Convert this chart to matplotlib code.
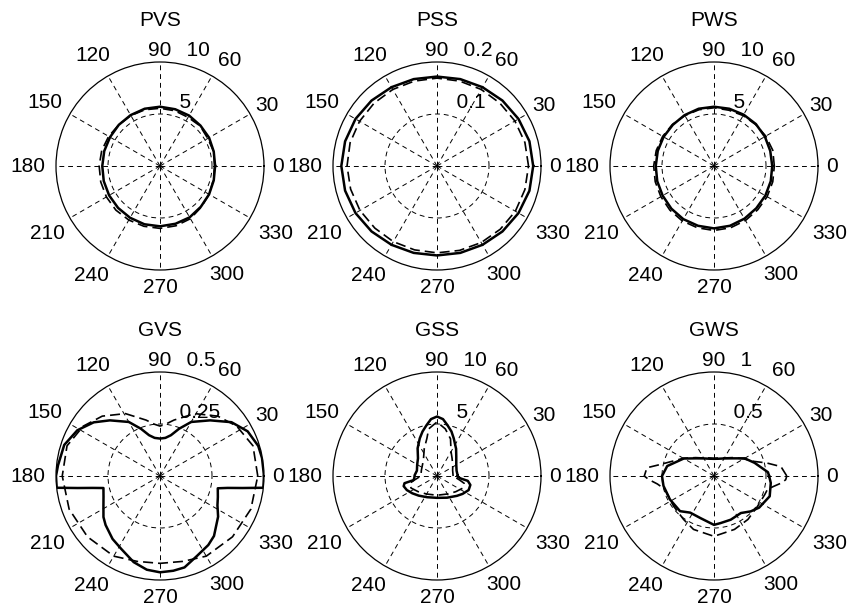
import numpy as np
import matplotlib.pyplot as plt

plt.rcParams['font.family'] = ['Liberation Sans', 'DejaVu Sans']

# ---------------- DATA ---------------- #

titles = ['PVS', 'PSS', 'PWS', 'GVS', 'GSS', 'GWS']
r_max = [10, 0.2, 10, 0.5, 10, 1]
r_tick_labels = [('5', '10'), ('0.1', '0.2'), ('5', '10'),
                 ('0.25', '0.5'), ('5', '10'), ('0.5', '1')]

ang15 = list(range(0, 360, 15))

pvs_solid = [5.3, 5.35, 5.45, 5.5, 5.6, 5.65, 5.7, 5.7, 5.65, 5.6, 5.55, 5.55,
             5.55, 5.6, 5.65, 5.7, 5.75, 5.8, 5.8, 5.75, 5.7, 5.55, 5.45, 5.35]
pvs_dash = [5.25, 5.35, 5.3, 5.45, 5.4, 5.5, 5.55, 5.6, 5.6, 5.6, 5.7, 5.8,
            5.85, 5.9, 5.95, 6.0, 6.0, 6.0, 6.0, 5.95, 5.85, 5.6, 5.45, 5.3]

pss_solid = [0.185, 0.184, 0.181, 0.178, 0.175, 0.173, 0.172, 0.173, 0.175, 0.178, 0.181, 0.183,
             0.184, 0.183, 0.181, 0.178, 0.175, 0.173, 0.172, 0.173, 0.175, 0.178, 0.181, 0.184]
pss_dash = [0.176, 0.175, 0.173, 0.171, 0.170, 0.169, 0.169, 0.169, 0.170, 0.171, 0.172, 0.173,
            0.173, 0.172, 0.171, 0.169, 0.168, 0.167, 0.167, 0.168, 0.170, 0.172, 0.174, 0.175]

pws_solid = [5.6, 5.6, 5.65, 5.7, 5.7, 5.7, 5.7, 5.7, 5.65, 5.6, 5.6, 5.6,
             5.6, 5.65, 5.7, 5.8, 5.9, 5.95, 6.0, 5.95, 5.85, 5.75, 5.7, 5.65]
pws_dash = [5.8, 5.85, 5.75, 5.65, 5.6, 5.55, 5.6, 5.6, 5.6, 5.65, 5.7, 5.75,
            5.8, 5.85, 5.9, 6.0, 6.1, 6.15, 6.2, 6.15, 6.05, 5.95, 5.9, 5.85]

gvs_solid_ang = [0, 10, 17, 27, 37, 48, 60, 68, 75, 82, 90, 98, 105, 112, 120, 132,
                 141, 151, 162, 174, 180, 186.5, 188.3, 190, 192, 200, 208, 216, 222,
                 233, 242, 253, 262, 270, 278, 285, 295, 305, 312, 325, 333, 340,
                 348, 350, 351.7, 353.5]
gvs_solid = [0.5, 0.498, 0.494, 0.473, 0.43, 0.36, 0.30, 0.245, 0.203, 0.185, 0.18,
             0.185, 0.203, 0.245, 0.30, 0.36, 0.41, 0.454, 0.484, 0.493, 0.5, 0.5,
             0.40, 0.33, 0.278, 0.289, 0.308, 0.336, 0.352, 0.379, 0.397, 0.433,
             0.455, 0.463, 0.46, 0.455, 0.423, 0.405, 0.388, 0.341, 0.31, 0.296,
             0.284, 0.33, 0.40, 0.5]
gvs_dash_ang = [0, 18, 33, 46, 61, 76, 84, 90, 96, 104, 119, 134, 147, 162, 180,
                200, 220, 240, 255, 270, 285, 300, 320, 340]
gvs_dash = [0.47, 0.47, 0.44, 0.40, 0.343, 0.277, 0.25, 0.24, 0.25, 0.277, 0.343,
            0.40, 0.44, 0.47, 0.47, 0.465, 0.455, 0.445, 0.425, 0.42, 0.425, 0.445,
            0.455, 0.465]

gss_solid_ang = [0, 15, 30, 45, 55, 66, 72, 78.5, 84, 90, 96, 101.5, 108, 114.6, 125,
                 137, 150, 165, 178, 186, 190, 192.5, 197, 205, 215, 227, 245, 270,
                 295, 315, 325, 336, 345, 351, 354, 357]
gss_solid = [2.0, 1.95, 2.14, 2.62, 3.2, 3.96, 4.5, 5.0, 5.5, 5.72, 5.5, 5.0, 4.5,
             3.98, 3.25, 2.5, 2.2, 2.0, 2.15, 2.2, 2.3, 3.2, 3.35, 3.2, 2.9, 2.58,
             2.25, 2.1, 2.3, 2.7, 3.0, 3.33, 3.32, 3.0, 2.3, 2.05]
gss_dash_ang = [0, 20, 35, 50, 60, 70, 80, 90, 100, 105, 115, 127, 140, 160, 180,
                190, 195, 205, 220, 240, 270, 300, 320, 335, 345, 350]
gss_dash = [1.55, 1.6, 1.85, 2.25, 2.7, 3.8, 4.6, 5.2, 4.6, 3.75, 2.9, 2.15, 1.8,
            1.6, 1.55, 2.2, 2.7, 2.75, 2.35, 2.0, 1.85, 2.0, 2.35, 2.75, 2.7, 2.2]

gws_solid_ang = [0, 4, 18, 30, 45, 60, 75, 90, 105, 120, 135, 150, 168, 180, 191,
                 208, 226, 237, 252, 270, 278, 291, 306, 316, 325, 340, 353]
gws_solid = [0.53, 0.52, 0.41, 0.34, 0.24, 0.195, 0.172, 0.165, 0.172, 0.195, 0.24,
             0.336, 0.46, 0.50, 0.495, 0.48, 0.47, 0.42, 0.425, 0.47, 0.457, 0.45,
             0.44, 0.49, 0.53, 0.57, 0.55]
gws_dash_ang = [0, 8, 14, 20, 30, 45, 60, 75, 90, 105, 120, 135, 150, 160, 168, 173,
                180, 183, 188, 195, 217, 235, 249, 270, 291, 308, 325, 340, 346, 350,
                354, 357]
gws_dash = [0.70, 0.65, 0.52, 0.41, 0.33, 0.25, 0.2, 0.18, 0.17, 0.18, 0.2, 0.25,
            0.34, 0.42, 0.53, 0.65, 0.67, 0.63, 0.55, 0.49, 0.485, 0.51, 0.55, 0.58,
            0.55, 0.53, 0.51, 0.52, 0.53, 0.58, 0.65, 0.69]

series = [
    (ang15, pvs_solid, ang15, pvs_dash),
    (ang15, pss_solid, ang15, pss_dash),
    (ang15, pws_solid, ang15, pws_dash),
    (gvs_solid_ang, gvs_solid, gvs_dash_ang, gvs_dash),
    (gss_solid_ang, gss_solid, gss_dash_ang, gss_dash),
    (gws_solid_ang, gws_solid, gws_dash_ang, gws_dash),
]

# ---------------- PLOT ---------------- #

W, H = 852, 611
R = 104
centers = [(160, 166), (437, 166), (714, 166),
           (160, 476), (437, 476), (714, 476)]

# angle labels: placed at 1.1*rmax, then nudged outward (pixels) like the original
label_off = {0: (4, 0), 30: (8, 3), 60: (12, 6), 90: (0, 1), 120: (-10, 11),
             150: (-16, 6), 180: (-18, 0), 210: (-13, -10), 240: (-11, -10),
             270: (0, -7), 300: (10, -9), 330: (17, -10)}

fig = plt.figure(figsize=(W / 100, H / 100), dpi=100)
grid_ls = (0, (5, 4))
fs = 15


def closed(ang, r):
    th = np.deg2rad(np.append(ang, ang[0]))
    return th, np.append(r, r[0])


for i, (cx, cy) in enumerate(centers):
    ax = fig.add_axes([(cx - R) / W, 1 - (cy + R) / H, 2 * R / W, 2 * R / H],
                      projection='polar')
    rm = r_max[i]
    sa, sr, da, dr = series[i]

    th, rr = closed(sa, sr)
    ax.plot(th, rr, color='k', lw=1.8, zorder=3)
    th, rr = closed(da, dr)
    ax.plot(th, rr, color='k', lw=1.2, ls=(0, (6, 3)), zorder=3)

    ax.set_ylim(0, rm)
    ax.set_yticks([rm / 2])
    ax.set_yticklabels([])
    ax.set_xticks(np.deg2rad(np.arange(0, 360, 30)))
    ax.set_xticklabels([])
    ax.tick_params(length=0)
    ax.grid(True, color='k', lw=0.7, ls=grid_ls)
    ax.spines['polar'].set_linewidth(0.9)

    for a in range(0, 360, 30):
        dx, dy = label_off[a]
        ax.annotate(str(a), xy=(np.deg2rad(a), 1.1 * rm),
                    xytext=(dx * 0.72, dy * 0.72), textcoords='offset points',
                    ha='center', va='center', fontsize=fs, annotation_clip=False)

    for val, lab in zip([rm / 2, rm], r_tick_labels[i]):
        ax.text(np.deg2rad(82), val + rm / 40, '  ' + lab,
                ha='left', va='bottom', fontsize=fs)

    ax.text(0.5, 1.2, titles[i], transform=ax.transAxes,
            ha='center', va='center', fontsize=fs)

fig.savefig('out.png', dpi=100)
